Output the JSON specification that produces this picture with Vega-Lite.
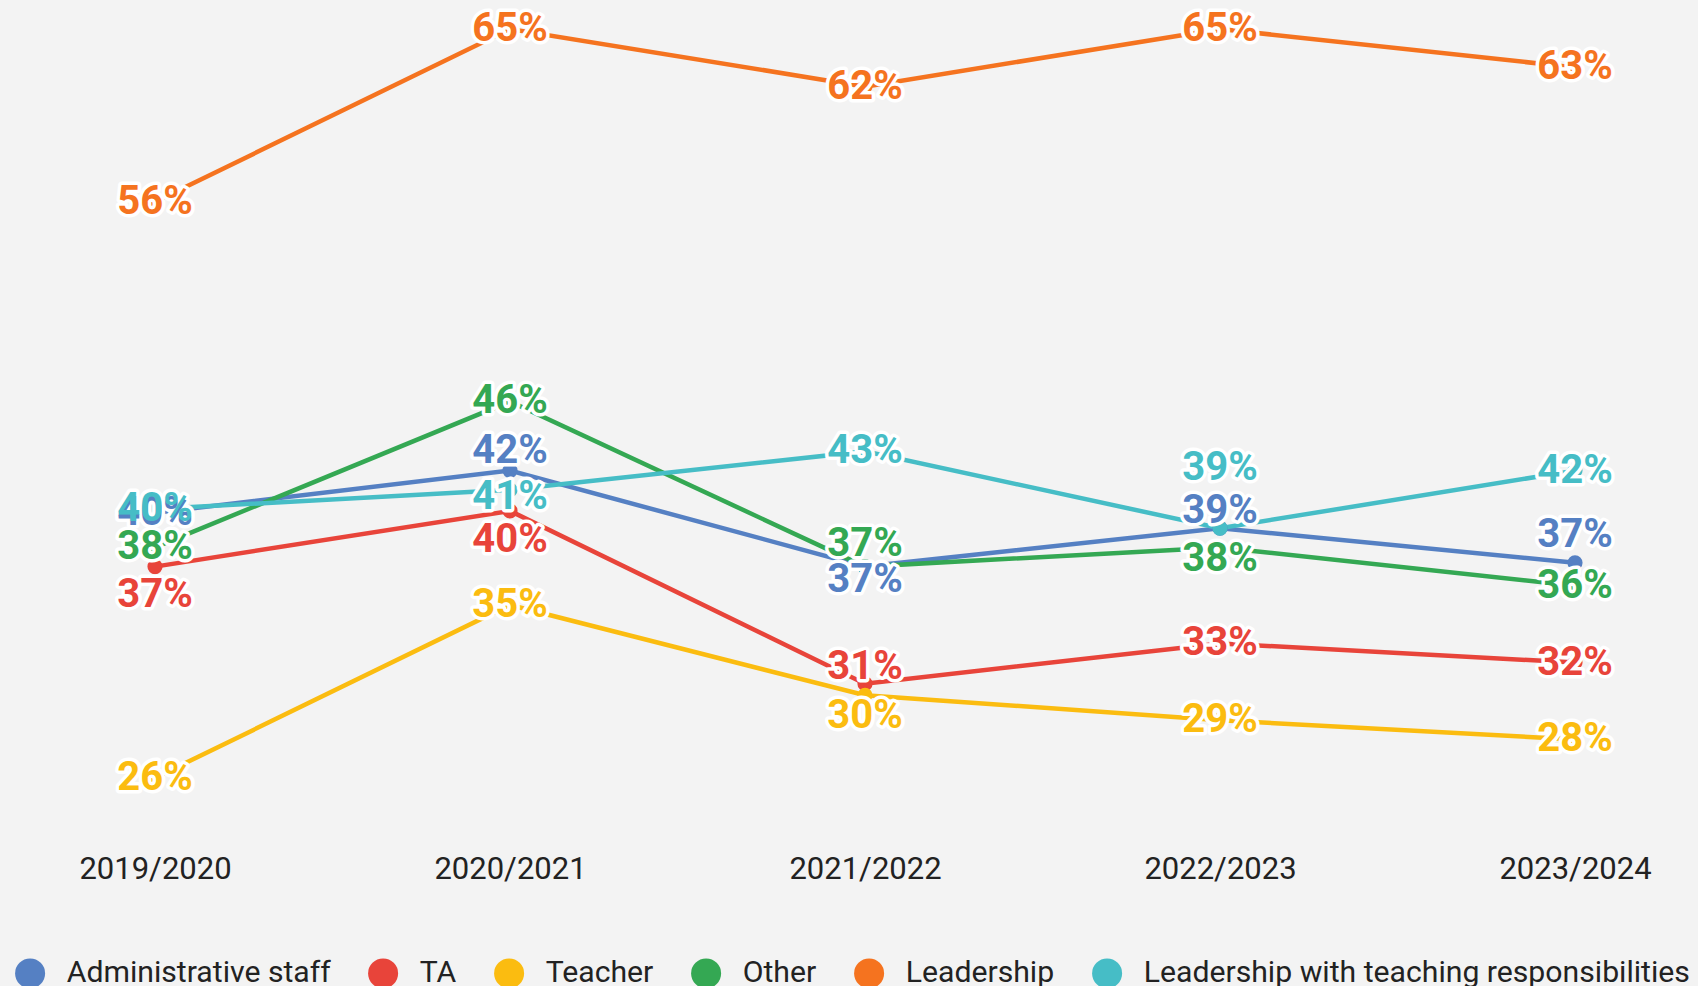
{
  "$schema": "https://vega.github.io/schema/vega-lite/v6.json",
  "width": 1698,
  "height": 840,
  "autosize": {"type": "none"},
  "padding": {"top": 0, "left": 0, "right": 0, "bottom": 146},
  "background": "#F3F3F3",
  "config": {"view": {"stroke": null}, "font": "Roboto"},
  "data": {
    "values": [
      {"year": "2019/2020", "series": "Administrative staff", "value": 0.398},
      {"year": "2020/2021", "series": "Administrative staff", "value": 0.42},
      {"year": "2021/2022", "series": "Administrative staff", "value": 0.37},
      {"year": "2022/2023", "series": "Administrative staff", "value": 0.39},
      {"year": "2023/2024", "series": "Administrative staff", "value": 0.372},
      {"year": "2019/2020", "series": "TA", "value": 0.37},
      {"year": "2020/2021", "series": "TA", "value": 0.399},
      {"year": "2021/2022", "series": "TA", "value": 0.309},
      {"year": "2022/2023", "series": "TA", "value": 0.33},
      {"year": "2023/2024", "series": "TA", "value": 0.32},
      {"year": "2019/2020", "series": "Teacher", "value": 0.26},
      {"year": "2020/2021", "series": "Teacher", "value": 0.35},
      {"year": "2021/2022", "series": "Teacher", "value": 0.303},
      {"year": "2022/2023", "series": "Teacher", "value": 0.29},
      {"year": "2023/2024", "series": "Teacher", "value": 0.28},
      {"year": "2019/2020", "series": "Other", "value": 0.38},
      {"year": "2020/2021", "series": "Other", "value": 0.456},
      {"year": "2021/2022", "series": "Other", "value": 0.37},
      {"year": "2022/2023", "series": "Other", "value": 0.38},
      {"year": "2023/2024", "series": "Other", "value": 0.36},
      {"year": "2019/2020", "series": "Leadership", "value": 0.56},
      {"year": "2020/2021", "series": "Leadership", "value": 0.65},
      {"year": "2021/2022", "series": "Leadership", "value": 0.62},
      {"year": "2022/2023", "series": "Leadership", "value": 0.65},
      {"year": "2023/2024", "series": "Leadership", "value": 0.63},
      {"year": "2019/2020", "series": "Leadership with teaching responsibilities", "value": 0.40},
      {"year": "2020/2021", "series": "Leadership with teaching responsibilities", "value": 0.41},
      {"year": "2021/2022", "series": "Leadership with teaching responsibilities", "value": 0.43},
      {"year": "2022/2023", "series": "Leadership with teaching responsibilities", "value": 0.39},
      {"year": "2023/2024", "series": "Leadership with teaching responsibilities", "value": 0.42}
    ]
  },
  "encoding": {
    "x": {
      "field": "year",
      "type": "ordinal",
      "title": null,
      "scale": {"type": "point", "range": [155, 1575], "padding": 0},
      "axis": {"domain": false, "ticks": false, "grid": false, "labelAngle": 0, "labelFontSize": 31, "labelFont": "Roboto", "labelColor": "#222222", "labelPadding": 14}
    },
    "y": {
      "field": "value",
      "type": "quantitative",
      "scale": {"domain": [0.25, 0.65], "range": [797, 29], "zero": false, "nice": false},
      "axis": null
    },
    "color": {
      "field": "series",
      "type": "nominal",
      "scale": {
        "domain": ["Administrative staff", "TA", "Teacher", "Other", "Leadership", "Leadership with teaching responsibilities"],
        "range": ["#5580C3", "#E8443A", "#FBBC10", "#34A853", "#F5731F", "#46BDC6"]
      },
      "legend": {
        "title": null,
        "orient": "none",
        "legendX": 15,
        "legendY": 958,
        "direction": "horizontal",
        "symbolType": "circle",
        "symbolSize": 900,
        "symbolStrokeWidth": 0,
        "labelFontSize": 30.2,
        "labelFont": "Roboto",
        "labelColor": "#222222",
        "labelOffset": 21.5,
        "columnPadding": 37,
        "labelLimit": 800,
        "encode": {"symbols": {"update": {"fill": {"scale": "color", "field": "value"}, "strokeWidth": {"value": 0}, "opacity": {"value": 1}}}}
      }
    }
  },
  "layer": [
    {"mark": {"type": "line", "strokeWidth": 4.5}},
    {"mark": {"type": "point", "filled": true, "size": 230, "opacity": 1}},
    {
      "mark": {
        "type": "text", "fontSize": 40, "fontWeight": "bold", "font": "Roboto",
        "stroke": "white", "strokeWidth": 7, "strokeJoin": "round",
        "dy": {"expr": "datum.series === 'TA' && datum.year === '2019/2020' ? 28 : datum.series === 'TA' && datum.year === '2020/2021' ? 29 : datum.series === 'Administrative staff' && datum.year === '2020/2021' ? -20 : datum.series === 'Leadership with teaching responsibilities' && datum.year === '2020/2021' ? 7 : datum.series === 'Other' && datum.year === '2021/2022' ? -23 : datum.series === 'Administrative staff' && datum.year === '2021/2022' ? 13 : datum.series === 'TA' && datum.year === '2021/2022' ? -17 : datum.series === 'Teacher' && datum.year === '2021/2022' ? 21 : datum.series === 'Leadership with teaching responsibilities' && datum.year === '2022/2023' ? -60 : datum.series === 'Administrative staff' && datum.year === '2022/2023' ? -17 : datum.series === 'Other' && datum.year === '2022/2023' ? 12 : datum.series === 'Administrative staff' && datum.year === '2023/2024' ? -28 : 0"}
      },
      "encoding": {
        "text": {"field": "value", "type": "quantitative", "format": ".0%"},
        "color": {"value": "white"}
      }
    },
    {
      "mark": {
        "type": "text", "fontSize": 40, "fontWeight": "bold", "font": "Roboto",
        "dy": {"expr": "datum.series === 'TA' && datum.year === '2019/2020' ? 28 : datum.series === 'TA' && datum.year === '2020/2021' ? 29 : datum.series === 'Administrative staff' && datum.year === '2020/2021' ? -20 : datum.series === 'Leadership with teaching responsibilities' && datum.year === '2020/2021' ? 7 : datum.series === 'Other' && datum.year === '2021/2022' ? -23 : datum.series === 'Administrative staff' && datum.year === '2021/2022' ? 13 : datum.series === 'TA' && datum.year === '2021/2022' ? -17 : datum.series === 'Teacher' && datum.year === '2021/2022' ? 21 : datum.series === 'Leadership with teaching responsibilities' && datum.year === '2022/2023' ? -60 : datum.series === 'Administrative staff' && datum.year === '2022/2023' ? -17 : datum.series === 'Other' && datum.year === '2022/2023' ? 12 : datum.series === 'Administrative staff' && datum.year === '2023/2024' ? -28 : 0"}
      },
      "encoding": {
        "text": {"field": "value", "type": "quantitative", "format": ".0%"}
      }
    }
  ]
}
